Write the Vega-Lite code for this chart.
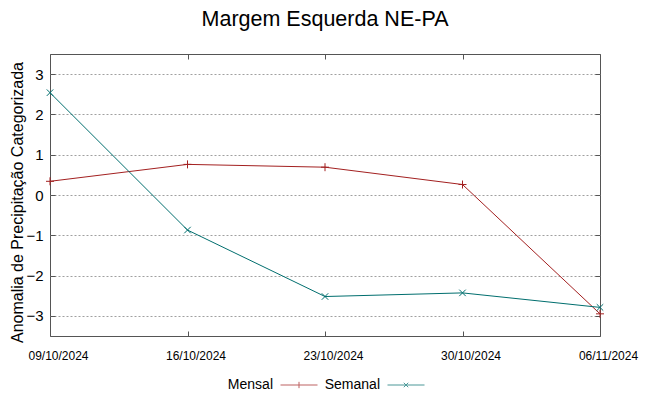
{
  "$schema": "https://vega.github.io/schema/vega-lite/v6.json",
  "width": 550,
  "height": 282,
  "autosize": "none",
  "padding": {"left": 50, "top": 54, "right": 49, "bottom": 60},
  "background": "white",
  "config": {
    "view": {"stroke": "#555555", "strokeWidth": 1},
    "font": "Liberation Sans"
  },
  "title": {
    "text": "Margem Esquerda NE-PA",
    "font": "Liberation Sans",
    "fontSize": 21.5,
    "fontWeight": "normal",
    "color": "#000000",
    "anchor": "middle",
    "offset": 23
  },
  "data": {
    "values": [
      {"date": "2024-10-09", "serie": "Mensal", "value": 0.34},
      {"date": "2024-10-16", "serie": "Mensal", "value": 0.76},
      {"date": "2024-10-23", "serie": "Mensal", "value": 0.69},
      {"date": "2024-10-30", "serie": "Mensal", "value": 0.26},
      {"date": "2024-11-06", "serie": "Mensal", "value": -2.95},
      {"date": "2024-10-09", "serie": "Semanal", "value": 2.54},
      {"date": "2024-10-16", "serie": "Semanal", "value": -0.87},
      {"date": "2024-10-23", "serie": "Semanal", "value": -2.52},
      {"date": "2024-10-30", "serie": "Semanal", "value": -2.43},
      {"date": "2024-11-06", "serie": "Semanal", "value": -2.79}
    ]
  },
  "layer": [
    {
      "transform": [{"filter": "datum.serie == 'Mensal'"}],
      "mark": {"type": "line", "strokeWidth": 1, "color": "#a32020"},
      "encoding": {
        "x": {
          "field": "date", "type": "temporal",
          "scale": {"type": "utc", "domain": [{"year": 2024, "month": 10, "date": 9, "utc": true}, {"year": 2024, "month": 11, "date": 6, "utc": true}]},
          "axis": {
            "orient": "bottom",
            "values": [
              {"year": 2024, "month": 10, "date": 9, "utc": true},
              {"year": 2024, "month": 10, "date": 16, "utc": true},
              {"year": 2024, "month": 10, "date": 23, "utc": true},
              {"year": 2024, "month": 10, "date": 30, "utc": true},
              {"year": 2024, "month": 11, "date": 6, "utc": true}
            ],
            "labelExpr": "utcFormat(datum.value, '%d/%m/%Y')",
            "title": null,
            "grid": false,
            "domain": false,
            "tickSize": -5,
            "tickColor": "#555555",
            "labelFont": "Liberation Sans",
            "labelFontSize": 12,
            "labelColor": "#000000",
            "labelPadding": 19,
            "labelOffset": 8,
            "labelFlush": false,
            "labelOverlap": false
          }
        },
        "y": {
          "field": "value", "type": "quantitative",
          "scale": {"domain": [-3.5, 3.5], "nice": false, "zero": false},
          "axis": {
            "orient": "left",
            "values": [-3, -2, -1, 0, 1, 2, 3],
            "title": "Anomalia de Precipitação Categorizada",
            "titleFont": "Liberation Sans",
            "titleFontSize": 16,
            "titleFontWeight": "normal",
            "titleColor": "#000000",
            "titlePadding": 0,
            "titleY": 148,
            "grid": true,
            "gridColor": "#a0a0a0",
            "gridDash": [2, 2],
            "gridWidth": 1,
            "domain": false,
            "tickSize": -5,
            "tickColor": "#555555",
            "labelFont": "Liberation Sans",
            "labelFontSize": 15,
            "labelColor": "#000000",
            "labelPadding": 12,
            "labelFlush": false,
            "labelOverlap": false
          }
        }
      }
    },
    {
      "transform": [{"filter": "datum.serie == 'Semanal'"}],
      "mark": {"type": "line", "strokeWidth": 1, "color": "#006e6e"},
      "encoding": {
        "x": {"field": "date", "type": "temporal", "axis": null},
        "y": {"field": "value", "type": "quantitative", "axis": null}
      }
    },
    {
      "transform": [{"filter": "datum.serie == 'Mensal'"}],
      "mark": {"type": "point", "shape": "M-1,0H1M0,-1V1", "size": 64, "filled": false, "strokeWidth": 1, "color": "#a32020", "opacity": 1},
      "encoding": {
        "x": {"field": "date", "type": "temporal", "axis": null},
        "y": {"field": "value", "type": "quantitative", "axis": null}
      }
    },
    {
      "transform": [{"filter": "datum.serie == 'Semanal'"}],
      "mark": {"type": "point", "shape": "M-1,-1L1,1M-1,1L1,-1", "size": 42, "filled": false, "strokeWidth": 1, "color": "#006e6e", "opacity": 1},
      "encoding": {
        "x": {"field": "date", "type": "temporal", "axis": null},
        "y": {"field": "value", "type": "quantitative", "axis": null}
      }
    },
    {
      "mark": {"type": "point", "opacity": 0},
      "encoding": {
        "x": {
          "field": "date", "type": "temporal",
          "axis": {
            "orient": "top",
            "values": [
              {"year": 2024, "month": 10, "date": 9, "utc": true},
              {"year": 2024, "month": 10, "date": 16, "utc": true},
              {"year": 2024, "month": 10, "date": 23, "utc": true},
              {"year": 2024, "month": 10, "date": 30, "utc": true},
              {"year": 2024, "month": 11, "date": 6, "utc": true}
            ],
            "labels": false, "title": null, "grid": false, "domain": false,
            "tickSize": -5, "tickColor": "#555555"
          }
        },
        "y": {
          "field": "value", "type": "quantitative",
          "axis": {
            "orient": "right",
            "values": [-3, -2, -1, 0, 1, 2, 3],
            "labels": false, "title": null, "grid": false, "domain": false,
            "tickSize": -5, "tickColor": "#555555"
          }
        }
      }
    },
    {
      "transform": [{"filter": "false"}],
      "mark": {"type": "point", "filled": false, "strokeWidth": 1},
      "encoding": {
        "color": {
          "field": "serie", "type": "nominal",
          "scale": {"domain": ["Mensal", "Semanal"], "range": ["#a32020", "#006e6e"]},
          "legend": {
            "orient": "none",
            "legendX": 230,
            "legendY": 312,
            "direction": "horizontal",
            "title": null,
            "labelFont": "Liberation Sans",
            "labelFontSize": 14,
            "labelColor": "#000000",
            "labelAlign": "right",
            "labelOffset": -45,
            "columnPadding": 4,
            "symbolSize": 1369,
            "symbolStrokeWidth": 1,
            "symbolFillColor": "transparent"
          }
        },
        "shape": {
          "field": "serie", "type": "nominal",
          "scale": {"domain": ["Mensal", "Semanal"], "range": ["M-1,0H1M0,-0.17V0.17", "M-1,0H1M-0.12,-0.12L0.12,0.12M-0.12,0.12L0.12,-0.12"]}
        }
      }
    }
  ],
  "resolve": {"axis": {"x": "independent", "y": "independent"}}
}
